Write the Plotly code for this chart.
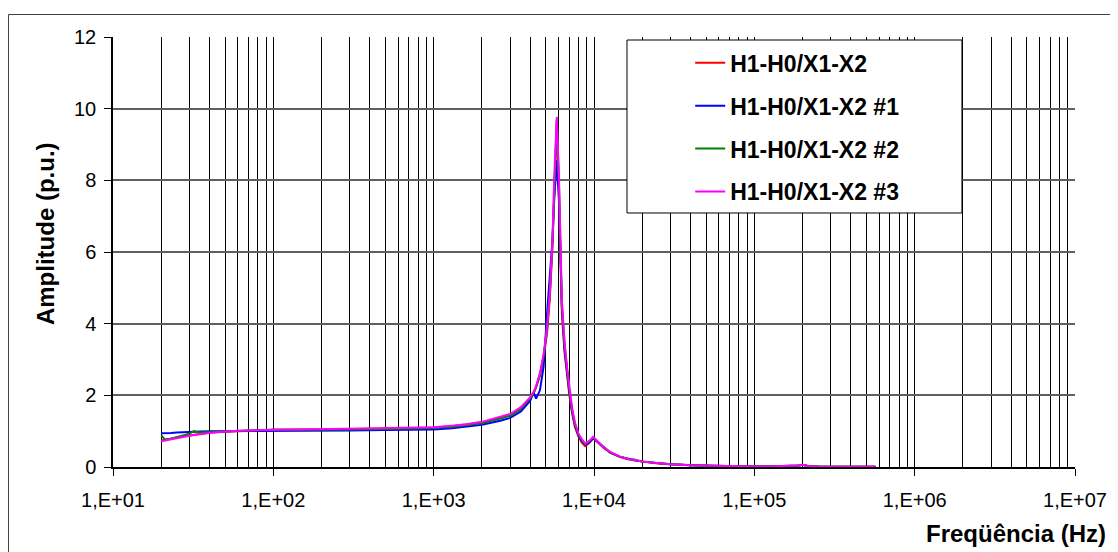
import plotly.graph_objects as go

# -----------------------------------------
# DATA
# -----------------------------------------
freq = [20, 21, 23, 25, 27, 30, 32, 35, 40, 45, 50, 60, 70, 80, 100, 150, 200, 300,
        500, 700, 1000, 1300, 1600, 2000, 2600, 3000, 3500, 4000, 4200, 4350, 4600,
        4850, 5100, 5300, 5500, 5650, 5860, 6050, 6300, 6550, 6800, 7000, 7300, 7600,
        8000, 8400, 8800, 9300, 9900, 10500, 11500, 12600, 14500, 16500, 18000, 20000,
        25000, 30000, 40000, 55000, 80000, 120000, 170000, 190000, 200000, 215000,
        250000, 350000, 570000]

amp_ref = [0.74, 0.76, 0.79, 0.82, 0.85, 0.88, 0.90, 0.93, 0.96, 0.98, 0.99, 1.01, 1.02, 1.03,
           1.04, 1.05, 1.05, 1.06, 1.07, 1.08, 1.10, 1.14, 1.18, 1.24, 1.37, 1.45, 1.62,
           1.90, 2.05, 2.22, 2.55, 3.05, 3.75, 4.70, 6.10, 7.80, 9.62, 7.60, 4.30, 3.20,
           2.50, 2.05, 1.50, 1.12, 0.85, 0.68, 0.58, 0.66, 0.80, 0.69, 0.53, 0.40, 0.28,
           0.21, 0.19, 0.15, 0.10, 0.08, 0.05, 0.03, 0.02, 0.015, 0.02, 0.04, 0.06, 0.03,
           0.015, 0.01, 0.01]

amp_1 = [0.94, 0.95, 0.95, 0.96, 0.97, 0.98, 0.98, 0.99, 1.00, 1.00, 1.00, 1.01, 1.01, 1.01,
         1.02, 1.02, 1.02, 1.02, 1.03, 1.04, 1.05, 1.08, 1.12, 1.18, 1.29, 1.37, 1.55,
         1.85, 2.08, 1.91, 2.14, 2.80, 4.30, 5.30, 6.30, 7.50, 8.56, 7.40, 4.50, 3.30,
         2.60, 2.15, 1.55, 1.18, 0.88, 0.72, 0.62, 0.68, 0.80, 0.70, 0.54, 0.41, 0.29,
         0.22, 0.19, 0.15, 0.10, 0.08, 0.05, 0.03, 0.02, 0.015, 0.02, 0.04, 0.06, 0.03,
         0.015, 0.01, 0.01]

amp_2 = [0.88, 0.77, 0.79, 0.83, 0.86, 0.93, 1.00, 0.96, 0.98, 0.99, 1.00, 1.01, 1.02, 1.03,
         1.04, 1.04, 1.05, 1.05, 1.06, 1.07, 1.09, 1.12, 1.16, 1.22, 1.35, 1.43, 1.62,
         1.92, 2.07, 2.23, 2.58, 3.10, 3.85, 4.80, 6.20, 7.90, 9.70, 7.90, 4.55, 3.40,
         2.65, 2.20, 1.60, 1.20, 0.91, 0.75, 0.64, 0.71, 0.83, 0.71, 0.54, 0.41, 0.29,
         0.22, 0.20, 0.15, 0.10, 0.08, 0.05, 0.03, 0.02, 0.015, 0.02, 0.04, 0.06, 0.03,
         0.015, 0.01, 0.01]

amp_3 = [0.72, 0.74, 0.77, 0.80, 0.83, 0.87, 0.89, 0.92, 0.95, 0.97, 0.99, 1.01, 1.02, 1.03,
         1.04, 1.05, 1.06, 1.07, 1.08, 1.09, 1.11, 1.15, 1.19, 1.26, 1.39, 1.48, 1.67,
         1.95, 2.09, 2.25, 2.62, 3.15, 3.90, 4.85, 6.25, 8.10, 9.77, 8.00, 4.65, 3.50,
         2.75, 2.30, 1.65, 1.25, 0.93, 0.78, 0.66, 0.72, 0.84, 0.72, 0.55, 0.42, 0.29,
         0.22, 0.20, 0.15, 0.10, 0.08, 0.05, 0.03, 0.02, 0.015, 0.02, 0.04, 0.06, 0.03,
         0.015, 0.01, 0.01]

series_names = ["H1-H0/X1-X2", "H1-H0/X1-X2 #1", "H1-H0/X1-X2 #2", "H1-H0/X1-X2 #3"]
series_values = [amp_ref, amp_1, amp_2, amp_3]
series_colors = ["#FF0000", "#0000FF", "#008000", "#FF00FF"]

x_tickvals = [1e1, 1e2, 1e3, 1e4, 1e5, 1e6, 1e7]
x_ticktext = ["1,E+01", "1,E+02", "1,E+03", "1,E+04", "1,E+05", "1,E+06", "1,E+07"]

FONT = "Liberation Sans, Arial, sans-serif"

# -----------------------------------------
# FIGURE
# -----------------------------------------
fig = go.Figure()

for name, vals, col in zip(series_names, series_values, series_colors):
    fig.add_trace(go.Scatter(
        x=freq, y=vals, mode="lines", name=name, legendgroup=name,
        line=dict(color=col, width=2),
    ))

minor_vals = [m * 10 ** d for d in range(1, 7) for m in range(2, 10)]

fig.update_xaxes(
    type="log", range=[1, 7], automargin=False,
    tickmode="array", tickvals=x_tickvals, ticktext=x_ticktext,
    showgrid=True, gridcolor="#000000", gridwidth=1,
    minor=dict(tickvals=minor_vals, showgrid=True, gridcolor="#000000", gridwidth=1, ticks=""),
    showline=True, linecolor="black", linewidth=1.5,
    ticks="outside", ticklen=7, tickcolor="black",
    ticklabelstandoff=7,
    tickfont=dict(family=FONT, size=20, color="black"),
    zeroline=False,
)
fig.update_yaxes(
    range=[0, 12], dtick=2, automargin=False,
    showgrid=True, gridcolor="#606060", gridwidth=1.5,
    showline=True, linecolor="black", linewidth=1.5,
    ticks="outside", ticklen=7, tickcolor="black",
    ticklabelstandoff=4,
    tickfont=dict(family=FONT, size=20, color="black"),
    zeroline=False,
)

# outer chart border
fig.add_shape(type="rect", xref="paper", yref="paper",
              x0=-0.1086, x1=1.0437, y0=-0.21, y1=1.0523,
              line=dict(color="#404040", width=1), fillcolor="rgba(0,0,0,0)", layer="below")

# legend frame
fig.add_shape(type="rect", xref="paper", yref="paper",
              x0=0.5343, x1=0.8825, y0=0.5907, y1=0.993,
              line=dict(color="black", width=1), fillcolor="white", layer="above")

fig.add_annotation(text="<b>Amplitude (p.u.)</b>", textangle=-90,
                   xref="paper", yref="paper", x=-0.0707, y=0.544,
                   xanchor="center", yanchor="middle",
                   showarrow=False, font=dict(family=FONT, size=24, color="black"))
fig.add_annotation(text="<b>Freqüência (Hz)</b>",
                   xref="paper", yref="paper", x=1.0343, y=-0.1535,
                   xanchor="right", yanchor="middle", showarrow=False,
                   font=dict(family=FONT, size=24, color="black"))

# page body adds an 8px margin, so the figure is 8px smaller and shifted up/left
fig.update_layout(
    width=1110, height=544,
    margin=dict(l=105, r=43, t=29, b=85),
    paper_bgcolor="white", plot_bgcolor="white",
    showlegend=True,
    legend=dict(
        x=0.600, y=0.99, xanchor="left", yanchor="top",
        bgcolor="rgba(0,0,0,0)", borderwidth=0,
        font=dict(family=FONT, size=23, color="black", weight="bold"),
        tracegroupgap=10,
    ),
)

fig.write_html("out.html")
